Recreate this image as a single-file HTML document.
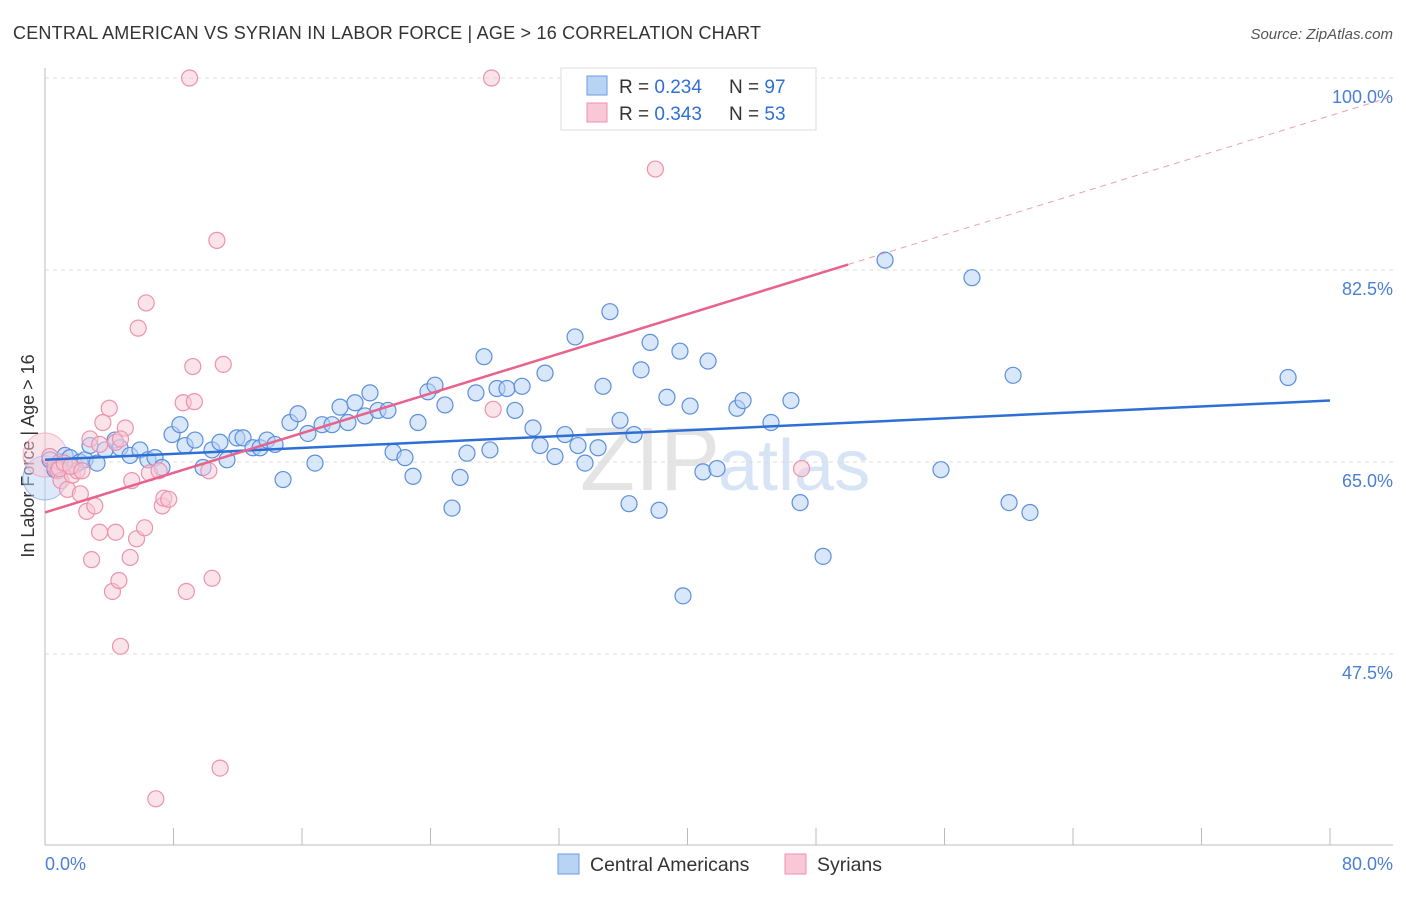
<!DOCTYPE html>
<html><head><meta charset="utf-8"><style>
body{margin:0;background:#fff;font-family:"Liberation Sans",sans-serif;}
svg text{font-family:"Liberation Sans",sans-serif;}
</style></head><body>
<svg id="chart" width="1406" height="892">
<text x="13" y="39" font-size="18" fill="#333" textLength="748">CENTRAL AMERICAN VS SYRIAN IN LABOR FORCE | AGE &gt; 16 CORRELATION CHART</text>
<text x="1393" y="39" font-size="15" fill="#555" text-anchor="end" font-style="italic">Source: ZipAtlas.com</text>
<text x="720" y="490" font-size="90" fill="#e4e4e4" text-anchor="end" font-family="Liberation Serif">ZIP</text>
<text x="718" y="490" font-size="72" fill="#d6e4f5">atlas</text>
<g id="grid"></g>
<line x1="45" y1="68" x2="45" y2="845" stroke="#bbb"/>
<line x1="45" y1="845" x2="1393" y2="845" stroke="#bbb"/>
<g id="xticks"></g>
<text x="34" y="456" font-size="18" fill="#333" text-anchor="middle" transform="rotate(-90 34 456)">In Labor Force | Age &gt; 16</text>
<text x="45" y="870" font-size="18" fill="#4a7fd4">0.0%</text>
<text x="1393" y="870" font-size="18" fill="#4a7fd4" text-anchor="end">80.0%</text>
<g id="points"></g>
<g id="lines"></g>
<g>
<rect x="561" y="68" width="255" height="62" fill="#fff" stroke="#ddd"/>
<rect x="587" y="76" width="20" height="19" fill="#b9d3f5" stroke="#6c9be0"/>
<rect x="587" y="103" width="20" height="19" fill="#f8c8d6" stroke="#ec92ad"/>
<text x="619" y="93" font-size="19" fill="#333">R = <tspan fill="#2f6fd6">0.234</tspan></text>
<text x="729" y="93" font-size="19" fill="#333">N = <tspan fill="#2f6fd6">97</tspan></text>
<text x="619" y="120" font-size="19" fill="#333">R = <tspan fill="#2f6fd6">0.343</tspan></text>
<text x="729" y="120" font-size="19" fill="#333">N = <tspan fill="#2f6fd6">53</tspan></text>
</g>
<g>
<rect x="558" y="854" width="21" height="20" fill="#b9d3f5" stroke="#6c9be0"/>
<text x="590" y="871" font-size="19.5" fill="#333">Central Americans</text>
<rect x="785" y="854" width="21" height="20" fill="#f8c8d6" stroke="#ec92ad"/>
<text x="817" y="871" font-size="19.5" fill="#333">Syrians</text>
</g>
</svg>
<script>
const yTicks=[100,82.5,65,47.5];
const xTickVals=[0,8,16,24,32,40,48,56,64,72,80];
const blueX=[0.31,0.62,0.93,1.25,1.56,1.87,2.18,2.49,2.80,3.24,3.74,4.36,4.67,5.29,5.91,6.41,6.85,7.28,7.91,8.40,8.72,9.34,9.84,10.40,10.89,11.33,11.95,12.33,12.95,13.39,13.82,14.32,14.82,15.25,15.75,16.37,16.81,17.25,17.87,18.37,18.86,19.30,19.92,20.23,20.73,21.35,21.67,22.41,22.91,23.22,23.84,24.28,24.90,25.34,25.84,26.27,26.83,27.33,27.70,28.14,28.76,29.26,29.70,30.38,30.82,31.13,31.75,32.37,33.00,33.18,33.62,34.43,34.74,35.17,35.80,36.36,36.67,37.11,37.67,38.23,38.72,39.53,39.72,40.16,40.96,41.28,41.84,43.08,43.46,45.20,46.44,47.01,48.44,52.30,55.78,57.71,60.02,60.27,61.32,77.39];
const blueY=[65.2,64.3,65.0,65.6,65.4,64.7,65.0,65.2,66.5,64.9,66.1,67.0,66.3,65.6,66.1,65.2,65.4,64.5,67.5,68.4,66.5,67.0,64.5,66.1,66.8,65.2,67.2,67.2,66.3,66.3,67.0,66.6,63.4,68.6,69.4,67.6,64.9,68.4,68.4,70.0,68.6,70.4,69.2,71.3,69.7,69.7,65.9,65.4,63.7,68.6,71.4,72.0,70.2,60.8,63.6,65.8,71.3,74.6,66.1,71.7,71.7,69.7,71.9,68.1,66.5,73.1,65.5,67.5,76.4,66.5,64.9,66.3,71.9,78.7,68.8,61.2,67.5,73.4,75.9,60.6,70.9,75.1,52.8,70.1,64.1,74.2,64.4,69.9,70.6,68.6,70.6,61.3,56.4,83.4,64.3,81.8,61.3,72.9,60.4,72.7];
const pinkX=[0.3,0.6,0.8,1.0,1.4,1.7,2.0,2.2,2.6,2.9,3.1,3.4,3.6,4.0,4.2,4.4,4.6,4.7,5.0,5.3,5.4,5.7,5.8,6.2,6.3,6.5,7.1,7.3,7.4,7.7,6.9,8.6,8.8,9.0,9.2,9.3,10.2,10.4,10.7,10.9,11.1,27.8,27.9,38.0,47.1,0.9,1.2,1.6,2.8,3.4,4.4,4.7,2.3];
const pinkY=[65.5,64.6,64.2,63.3,62.5,63.8,64.2,62.1,60.5,56.1,61.0,58.6,68.6,69.9,53.2,58.6,54.2,48.2,68.1,56.3,63.3,58.0,77.2,59.0,79.5,64.0,64.2,61.0,61.7,61.6,34.3,70.4,53.2,100,73.7,70.5,64.2,54.4,85.2,37.1,73.9,100,69.8,91.7,64.4,64.4,64.9,64.6,67.1,66.6,66.8,67.1,64.2];
const blueTrend=[65.2,70.6];
const pinkTrend=[60.4,83.0];
const X=v=>45+v/80*1285;
const Y=v=>78+(100-v)/17.5*192;
const NS='http://www.w3.org/2000/svg';
function mk(tag,attrs,parent){const e=document.createElementNS(NS,tag);for(const k in attrs)e.setAttribute(k,attrs[k]);document.getElementById(parent).appendChild(e);return e;}
yTicks.forEach(t=>{
 const l=mk('line',{x1:45,x2:1393,y1:Y(t),y2:Y(t),stroke:'#ddd','stroke-dasharray':'4,4'},'grid');
 
 
 const tx=mk('text',{x:1393,y:Y(t)+25,'font-size':18,fill:'#4a7fd4','text-anchor':'end'},'grid');
 tx.textContent=t.toFixed(1)+'%';
 
 
});
xTickVals.forEach(t=>{
 const l=mk('line',{x1:X(t),x2:X(t),y1:828,y2:845,stroke:'#bbb'},'xticks');
 
 
});
function big(cx,cy,fill,stroke){const c=mk('circle',{cx:cx,cy:cy,r:22,fill:fill,'fill-opacity':0.5,stroke:stroke,'stroke-opacity':0.6},'points');
 
 }
big(45,478,'#b9d3f5','#6c9be0');big(45,455,'#f8c8d6','#ec92ad');
blueX.forEach((x,i)=>{const c=mk('circle',{cx:X(x),cy:Y(blueY[i]),r:8,fill:'#b9d3f5','fill-opacity':0.55,stroke:'#5b8fdc','stroke-width':1.2},'points');
 
 });
pinkX.forEach((x,i)=>{const c=mk('circle',{cx:X(x),cy:Y(pinkY[i]),r:8,fill:'#f8c8d6','fill-opacity':0.5,stroke:'#ec92ad','stroke-width':1.2},'points');
 
 });
const bt=mk('line',{x1:X(0),y1:Y(blueTrend[0]),x2:X(80),y2:Y(blueTrend[1]),stroke:'#2e6fd6','stroke-width':2.5},'lines');


const pe=50,ps=(pinkTrend[1]-pinkTrend[0])/pe;
const pt=mk('line',{x1:X(0),y1:Y(pinkTrend[0]),x2:X(pe),y2:Y(pinkTrend[1]),stroke:'#e8628c','stroke-width':2.5},'lines');


const pd=mk('line',{x1:X(pe),y1:Y(pinkTrend[1]),x2:X(84),y2:Y(pinkTrend[0]+ps*84),stroke:'#e8a0b6','stroke-width':1,'stroke-dasharray':'6,5'},'lines');


</script>
</body></html>
